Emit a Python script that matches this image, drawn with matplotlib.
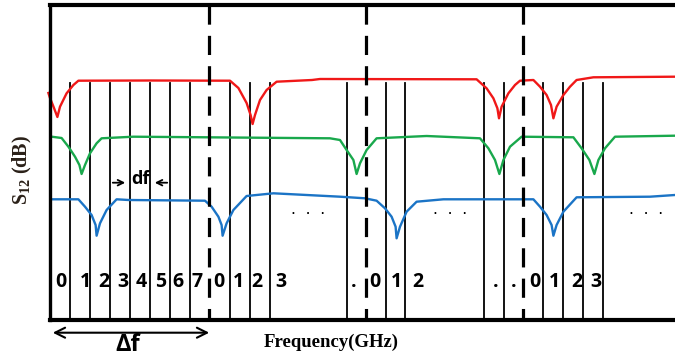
import numpy as np
import matplotlib.pyplot as plt

# frequency in units of df, S12 in arbitrary units (schematic)
red_f = [-0.08, 0.0, 0.2, 0.37, 0.5, 0.83, 1.17, 1.42, 5.0, 9.0, 9.42, 9.83, 10.03, 10.13, 10.25, 10.5, 10.83,
         11.33, 13.1, 13.5, 21.33, 21.83, 22.17, 22.37, 22.45, 22.58, 22.92, 23.25, 23.5, 24.17, 24.5, 24.83,
         25.05, 25.17, 25.33, 25.67, 26.0, 26.33, 27.17, 31.25]
red_s = [227, 222, 212, 203, 213.3, 226.7, 235, 239.3, 239.5, 239.3, 232, 217, 205, 196, 205, 220, 230,
         238.3, 240, 241, 240.7, 231.7, 221.7, 211.7, 201.7, 213.3, 226.7, 235, 239.3, 240, 233.3, 225,
         215, 201.7, 213.3, 225, 233.3, 240, 242.7, 243.3]

green_f = [0.08, 0.58, 0.92, 1.25, 1.47, 1.58, 1.75, 2.0, 2.33, 2.58, 4.17, 7.83, 14.0, 14.5, 14.83, 15.17,
           15.33, 15.5, 15.83, 16.33, 18.83, 21.5, 21.92, 22.25, 22.47, 22.67, 23.0, 23.58, 26.17, 26.58,
           26.97, 27.22, 27.42, 27.75, 28.25, 31.25]
green_s = [183.3, 182, 173.3, 163.3, 155, 146, 155, 166.7, 176.7, 181.7, 183.3, 182.7, 181.7, 180, 170, 160,
           146, 156.7, 170, 181.7, 184, 181.7, 171.7, 160, 146, 160, 173.3, 183.3, 182.7, 171.7,
           160, 146, 160, 171.7, 183.3, 184.3]

blue_f = [0.08, 1.42, 1.75, 2.08, 2.28, 2.33, 2.5, 2.83, 3.33, 3.92, 7.75, 8.08, 8.42, 8.58, 8.63, 8.83,
          9.17, 9.83, 11.17, 14.5, 15.75, 16.33, 16.75, 17.08, 17.28, 17.33, 17.5, 17.83, 18.33, 19.67,
          24.17, 24.5, 24.83, 25.08, 25.17, 25.33, 25.67, 26.33, 30.0, 31.25]
blue_s = [120.7, 120.7, 113.3, 105, 95, 84.3, 96.7, 110, 120.7, 120, 119.3, 113.3, 103.3, 95, 84.3, 96.7,
          110, 124, 126.7, 123.3, 121.7, 119.3, 111.7, 103.3, 93.3, 81.7, 93.3, 108.3, 118.3, 120.7,
          120.7, 113.3, 105, 95, 84.3, 95, 108.3, 122.7, 123.3, 125]

channel_lines = [1, 2, 3, 4, 5, 6, 7, 9, 10, 11, 14.83, 16.8, 17.75, 21.7, 22.7, 24.65, 25.65, 26.65, 27.65]
band_edges = [7.97, 15.8, 23.67]

ch_labels = ['0', '1', '2', '3', '4', '5', '6', '7', '0', '1', '2', '3',
             '.', '0', '1', '2', '.', '.', '0', '1', '2', '3']
ch_label_f = [0.53, 1.75, 2.7, 3.63, 4.58, 5.53, 6.4, 7.33, 8.45, 9.4, 10.33, 11.55,
              15.2, 16.25, 17.33, 18.37, 22.3, 23.2, 24.22, 25.2, 26.33, 27.28]
dots_f = [12.9, 20.0, 29.8]

fig = plt.figure(figsize=(6.75, 3.56), dpi=100)
ax = fig.add_axes([50/675, 36/356, 625/675, 315/356])
ax.set_xlim(0, 31.25)
ax.set_ylim(0, 315)

for f in channel_lines:
    ax.plot([f, f], [0, 236.7], color='black', lw=1.3, zorder=1)
for f in band_edges:
    ax.plot([f, f], [315, 0], color='black', lw=2.3, dashes=(6, 3.5), zorder=3)

ax.plot(red_f, red_s, color='#f01818', lw=1.7, zorder=2, clip_on=False)
ax.plot(green_f, green_s, color='#19a84c', lw=1.7, zorder=2)
ax.plot(blue_f, blue_s, color='#1b74c6', lw=1.7, zorder=2)

for lab, f in zip(ch_labels, ch_label_f):
    ax.text(f, 38.3, lab, ha='center', va='center', fontsize=14, fontweight='bold', family='Open Sans')
for f in dots_f:
    ax.text(f, 111, '.  .  .', ha='center', va='center', fontsize=11)

# df marker
ax.annotate('', xy=(3.9, 137.3), xytext=(3.0, 137.3),
            arrowprops=dict(arrowstyle='->', lw=1.3, color='black'))
ax.annotate('', xy=(5.1, 137.3), xytext=(6.0, 137.3),
            arrowprops=dict(arrowstyle='->', lw=1.3, color='black'))
ax.text(4.5, 141, 'df', ha='center', va='center', fontsize=13, fontweight='bold', family='Open Sans')

# delta f marker
ax.annotate('', xy=(0, -12.7), xytext=(8.1, -12.7), annotation_clip=False,
            arrowprops=dict(arrowstyle='<->', lw=1.5, color='black', mutation_scale=18))
ax.text(3.9, -25, '\u0394f', ha='center', va='center', fontsize=17, fontweight='bold', family='Open Sans')

ax.text(14.05, -22, 'Frequency(GHz)', ha='center', va='center', fontsize=13.5,
        fontweight='bold', family='Liberation Serif')
fig.text(22/675, 1 - 170/356, r'S$_\mathregular{12}$ (dB)', rotation=90, ha='center', va='center',
         fontsize=14.5, fontweight='bold', family='Liberation Serif', color='#2a2018')

ax.set_xticks([])
ax.set_yticks([])
ax.spines['right'].set_visible(False)
ax.spines['top'].set_linewidth(3)
ax.spines['bottom'].set_linewidth(3)
ax.spines['left'].set_linewidth(2.4)

plt.savefig('out.png', dpi=100)
